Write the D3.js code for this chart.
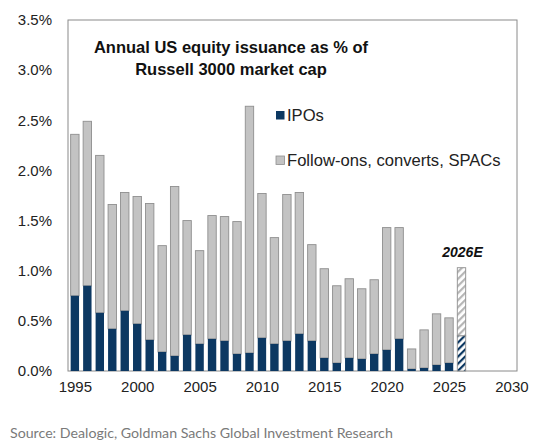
<!DOCTYPE html>
<html>
<head>
<meta charset="utf-8">
<script src="https://cdn.jsdelivr.net/npm/d3@7"></script>
<style>
  body { margin: 0; background: #fff; }
  text { font-family: "Liberation Sans", Arial, sans-serif; }
</style>
</head>
<body>
<svg width="544" height="448"></svg>
<script>
// values, % of Russell 3000 market cap
let years = [1995, 1996, 1997, 1998, 1999, 2000, 2001, 2002, 2003, 2004,
             2005, 2006, 2007, 2008, 2009, 2010, 2011, 2012, 2013, 2014,
             2015, 2016, 2017, 2018, 2019, 2020, 2021, 2022, 2023, 2024,
             2025, 2026];
let ipos = [0.75, 0.85, 0.58, 0.42, 0.60, 0.47, 0.31, 0.19, 0.15, 0.36,
            0.27, 0.32, 0.30, 0.17, 0.18, 0.33, 0.27, 0.30, 0.37, 0.30,
            0.13, 0.08, 0.13, 0.12, 0.17, 0.21, 0.32, 0.02, 0.03, 0.06,
            0.08, 0.35];
let followOns = [1.61, 1.64, 1.57, 1.24, 1.18, 1.27, 1.36, 1.06, 1.69, 1.14,
                 0.93, 1.23, 1.24, 1.32, 2.46, 1.44, 1.06, 1.46, 1.41, 0.96,
                 0.89, 0.77, 0.79, 0.70, 0.74, 1.22, 1.11, 0.20, 0.38, 0.51,
                 0.45, 0.68];
let estimateYear = 2026;
let yTicks = [0, 0.5, 1.0, 1.5, 2.0, 2.5, 3.0, 3.5];
let xTicks = [1995, 2000, 2005, 2010, 2015, 2020, 2025, 2030];
let seriesNames = ["IPOs", "Follow-ons, converts, SPACs"];

let navy = "#0c3862";
let grey = "#c3c3c3";
let greyEdge = "#8f8f8f";

let plot = {left: 68, right: 517, top: 20, bottom: 371};
let barWidth = 8.4;

var svg = d3.select("svg");

var x = d3.scaleLinear()
          .domain([1994.45, 2030.45])
          .range([plot.left, plot.right]);

var y = d3.scaleLinear()
          .domain([0, 3.5])
          .range([plot.bottom, plot.top]);

// hatch patterns for the estimate bar
var defs = svg.append("defs");
function hatch(id, colour) {
    let p = defs.append("pattern")
        .attr("id", id)
        .attr("patternUnits", "userSpaceOnUse")
        .attr("width", 5)
        .attr("height", 5)
        .attr("patternTransform", "rotate(45)");
    p.append("rect").attr("width", 5).attr("height", 5).attr("fill", "#fff");
    p.append("rect").attr("x", 0).attr("width", 2.2).attr("height", 5).attr("fill", colour);
}
hatch("hatchGrey", "#b5b5b5");
hatch("hatchNavy", navy);

// frame
svg.append("rect")
   .attr("x", plot.left)
   .attr("y", plot.top)
   .attr("width", plot.right - plot.left)
   .attr("height", plot.bottom - plot.top)
   .attr("fill", "none")
   .attr("stroke", "#8a8a8a")
   .attr("stroke-width", 1);

// y axis labels
var yAxis = svg.append("g")
   .attr("transform", "translate(" + plot.left + ",0)")
   .call(d3.axisLeft(y).tickValues(yTicks).tickSize(0).tickPadding(16)
           .tickFormat(function(d) { return d.toFixed(1) + "%"; }));
yAxis.select(".domain").remove();
yAxis.selectAll("text")
     .attr("font-family", "Liberation Sans, Arial, sans-serif")
     .attr("font-size", 15)
     .attr("fill", "#222");

// x axis labels
var xAxis = svg.append("g")
   .attr("transform", "translate(0," + plot.bottom + ")")
   .call(d3.axisBottom(x).tickValues(xTicks).tickSize(0).tickPadding(10)
           .tickFormat(d3.format("d")));
xAxis.select(".domain").remove();
xAxis.selectAll("text")
     .attr("font-family", "Liberation Sans, Arial, sans-serif")
     .attr("font-size", 15)
     .attr("fill", "#222");

// bars
var data = years.map(function(yr, i) {
    return {year: yr, ipo: ipos[i], fo: followOns[i], est: yr === estimateYear};
});

var bars = svg.append("g").selectAll("g")
    .data(data)
    .enter().append("g");

bars.append("rect")
    .attr("x", function(d) { return x(d.year) - barWidth / 2; })
    .attr("y", function(d) { return y(d.ipo + d.fo); })
    .attr("width", barWidth)
    .attr("height", function(d) { return y(d.ipo) - y(d.ipo + d.fo); })
    .attr("fill", function(d) { return d.est ? "url(#hatchGrey)" : grey; })
    .attr("stroke", greyEdge)
    .attr("stroke-width", 0.9);

bars.append("rect")
    .attr("x", function(d) { return x(d.year) - barWidth / 2; })
    .attr("y", function(d) { return y(d.ipo); })
    .attr("width", barWidth)
    .attr("height", function(d) { return y(0) - y(d.ipo); })
    .attr("fill", function(d) { return d.est ? "url(#hatchNavy)" : navy; })
    .attr("stroke", function(d) { return d.est ? greyEdge : "none"; })
    .attr("stroke-width", 0.9);

// estimate label
var estIdx = years.indexOf(estimateYear);
svg.append("text")
   .attr("x", x(estimateYear) + 1)
   .attr("y", y(ipos[estIdx] + followOns[estIdx]) - 11)
   .attr("text-anchor", "middle")
   .attr("font-size", 14)
   .attr("font-weight", "bold")
   .attr("font-style", "italic")
   .attr("fill", "#111")
   .text(estimateYear + "E");

// title
var title = svg.append("text")
   .attr("text-anchor", "middle")
   .attr("font-size", 16.5)
   .attr("font-weight", "bold")
   .attr("fill", "#111");
title.append("tspan").attr("x", 231).attr("y", 53).text("Annual US equity issuance as % of");
title.append("tspan").attr("x", 231).attr("y", 75).text("Russell 3000 market cap");

// legend
var legendColours = [navy, grey];
var legend = svg.append("g").selectAll("g")
    .data(seriesNames)
    .enter().append("g")
    .attr("transform", function(d, i) { return "translate(276," + (111 + i * 45) + ")"; });
legend.append("rect")
    .attr("width", 8.5)
    .attr("height", 8.5)
    .attr("fill", function(d, i) { return legendColours[i]; })
    .attr("stroke", function(d, i) { return i === 1 ? greyEdge : "none"; })
    .attr("stroke-width", 0.8);
legend.append("text")
    .attr("x", 11)
    .attr("y", 9.5)
    .attr("font-size", 16.6)
    .attr("fill", "#222")
    .text(function(d) { return d; });

// source
svg.append("text")
   .attr("x", 10)
   .attr("y", 438)
   .style("font-family", "Lato, sans-serif")
   .attr("font-size", 14.2)
   .attr("fill", "#7a7a7a")
   .text("Source: Dealogic, Goldman Sachs Global Investment Research");
</script>
</body>
</html>
